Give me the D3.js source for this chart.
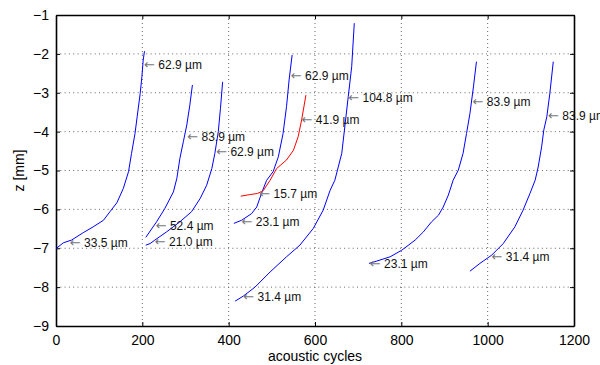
<!DOCTYPE html>
<html>
<head>
<meta charset="utf-8">
<script src="https://cdn.jsdelivr.net/npm/d3@7"></script>
<style>
  body { margin: 0; background: #fff; }
  text { font-family: "Liberation Sans", Arial, sans-serif; }
</style>
</head>
<body>
<div id="chart"></div>
<script>
const width = 600
const height = 365
const margin = { left: 56, right: 26, top: 15, bottom: 39 }

const xTicks = [0, 200, 400, 600, 800, 1000, 1200]
const yTicks = [-9, -8, -7, -6, -5, -4, -3, -2, -1]

// each curve: acoustic cycles (x) and depth z in mm (y)
const curveA_x = [0, 17, 36, 63, 86, 110, 125, 141, 156, 168, 175, 183, 188, 195, 199, 202, 205]
const curveA_y = [-7.01, -6.86, -6.79, -6.60, -6.45, -6.28, -6.06, -5.83, -5.46, -5.03, -4.56, -4.05, -3.62, -3.02, -2.59, -2.16, -1.93]

const curveB_x = [208, 233, 252, 272, 280, 287, 295, 303, 310, 316]
const curveB_y = [-6.72, -6.32, -5.98, -5.55, -5.20, -4.69, -4.26, -3.83, -3.32, -2.80]

const curveC_x = [208, 218, 229, 256, 287, 314, 334, 349, 361, 368, 376, 381, 386]
const curveC_y = [-6.92, -6.88, -6.79, -6.58, -6.32, -6.06, -5.72, -5.38, -4.95, -4.56, -4.00, -3.40, -2.72]

const curveD_x = [412, 430, 453, 465, 476, 488, 503, 515, 526, 534, 540, 547]
const curveD_y = [-6.36, -6.28, -6.11, -5.94, -5.59, -5.25, -5.03, -4.65, -4.05, -3.36, -2.67, -2.03]

const curveE_x = [415, 434, 461, 496, 534, 565, 596, 619, 635, 646, 662, 669, 677, 685, 691]
const curveE_y = [-8.36, -8.23, -8.00, -7.61, -7.22, -6.92, -6.49, -6.02, -5.51, -5.25, -4.56, -3.88, -3.10, -2.33, -1.21]

const curveF_x = [725, 743, 774, 801, 832, 851, 870, 886, 897, 909, 920, 932, 943, 951, 959, 967, 974]
const curveF_y = [-7.39, -7.33, -7.22, -7.05, -6.79, -6.58, -6.32, -6.15, -5.94, -5.63, -5.25, -4.99, -4.56, -4.05, -3.53, -2.85, -2.20]

const curveG_x = [959, 982, 1009, 1036, 1063, 1082, 1098, 1110, 1117, 1125, 1130, 1137, 1144, 1152]
const curveG_y = [-7.59, -7.39, -7.18, -6.88, -6.45, -6.02, -5.59, -5.25, -4.91, -4.39, -3.96, -3.62, -3.02, -2.20]

const curveR_x = [428, 449, 467, 480, 496, 511, 534, 550, 561, 569, 579]
const curveR_y = [-5.66, -5.62, -5.59, -5.52, -5.25, -4.95, -4.73, -4.48, -4.13, -3.70, -3.06]

const curves = [
    { xs: curveA_x, ys: curveA_y, color: "#0000ff" },
    { xs: curveB_x, ys: curveB_y, color: "#0000ff" },
    { xs: curveC_x, ys: curveC_y, color: "#0000ff" },
    { xs: curveD_x, ys: curveD_y, color: "#0000ff" },
    { xs: curveE_x, ys: curveE_y, color: "#0000ff" },
    { xs: curveF_x, ys: curveF_y, color: "#0000ff" },
    { xs: curveG_x, ys: curveG_y, color: "#0000ff" },
    { xs: curveR_x, ys: curveR_y, color: "#ff0000" }
]

// annotations (point on curve + text)
const labelX = [204, 32, 304, 231, 371, 229, 544, 430, 471, 569, 677, 434, 965, 727, 1140, 1009]
const labelY = [-2.29, -6.85, -4.13, -6.41, -4.51, -6.84, -2.57, -6.32, -5.61, -3.70, -3.13, -8.25, -3.23, -7.41, -3.60, -7.22]
const labelText = ["62.9 µm", "33.5 µm", "83.9 µm", "52.4 µm", "62.9 µm", "21.0 µm", "62.9 µm", "23.1 µm",
    "15.7 µm", "41.9 µm", "104.8 µm", "31.4 µm", "83.9 µm", "23.1 µm", "83.9 µm", "31.4 µm"]

const svg = d3.select("#chart").append("svg").attr("width", width).attr("height", height)
const innerW = width - margin.left - margin.right
const innerH = height - margin.top - margin.bottom

const x = d3.scaleLinear().domain([0, 1200]).range([0, innerW])
const y = d3.scaleLinear().domain([-9, -1]).range([innerH, 0])

const g = svg.append("g").attr("transform", `translate(${margin.left}, ${margin.top})`)

// grid
g.append("g").selectAll("line").data(xTicks.slice(1, -1)).join("line")
    .attr("x1", d => x(d)).attr("x2", d => x(d))
    .attr("y1", 0).attr("y2", innerH)
    .attr("stroke", "#666").attr("stroke-dasharray", "1,3")
g.append("g").selectAll("line").data(yTicks.slice(1, -1)).join("line")
    .attr("x1", 0).attr("x2", innerW)
    .attr("y1", d => y(d)).attr("y2", d => y(d))
    .attr("stroke", "#666").attr("stroke-dasharray", "1,3.3")

// axes with inward ticks
const fmt = d => d < 0 ? "\u2212" + Math.abs(d) : d
const xAxis = d3.axisBottom(x).tickValues(xTicks).tickSizeInner(-4).tickSizeOuter(0).tickPadding(9).tickFormat(fmt)
const yAxis = d3.axisLeft(y).tickValues(yTicks).tickSizeInner(-4).tickSizeOuter(0).tickPadding(7).tickFormat(fmt)

g.append("g").attr("transform", `translate(0, ${innerH})`).call(xAxis)
g.append("g").call(yAxis)
g.append("g").call(d3.axisTop(x).tickValues(xTicks).tickSizeInner(-4).tickSizeOuter(0).tickFormat(""))
g.append("g").attr("transform", `translate(${innerW}, 0)`)
    .call(d3.axisRight(y).tickValues(yTicks).tickSizeInner(-4).tickSizeOuter(0).tickFormat(""))

g.selectAll(".domain").attr("stroke", "#000").attr("stroke-width", 1.6)
g.selectAll(".tick line").attr("stroke", "#000")
g.selectAll(".tick text").attr("font-size", 14).attr("fill", "#000")
    .style("font-family", "'Liberation Sans', Arial, sans-serif")

// curves
const line = d3.line().x(d => x(d[0])).y(d => y(d[1]))
g.selectAll(".curve").data(curves).join("path")
    .attr("class", "curve")
    .attr("d", c => line(c.xs.map((v, i) => [v, c.ys[i]])))
    .attr("fill", "none")
    .attr("stroke", c => c.color)
    .attr("stroke-width", 1)

// labels
const labels = g.selectAll(".lbl").data(labelText).join("text")
    .attr("class", "lbl")
    .attr("x", (d, i) => x(labelX[i]))
    .attr("y", (d, i) => y(labelY[i]))
    .attr("dy", "0.35em")
    .attr("font-size", 12)
    .attr("fill", "#111")
labels.append("tspan").text("\u2190").attr("fill", "#777")
    .style("font-family", "'DejaVu Sans', sans-serif").attr("font-size", 13)
labels.append("tspan").text(d => " " + d)

// axis titles
svg.append("text")
    .text("acoustic cycles")
    .attr("x", margin.left + innerW / 2)
    .attr("y", 361)
    .attr("text-anchor", "middle")
    .attr("font-size", 14)
svg.append("text")
    .text("z [mm]")
    .attr("transform", `translate(24, ${margin.top + innerH / 2}) rotate(-90)`)
    .attr("text-anchor", "middle")
    .attr("font-size", 14)
</script>
</body>
</html>
